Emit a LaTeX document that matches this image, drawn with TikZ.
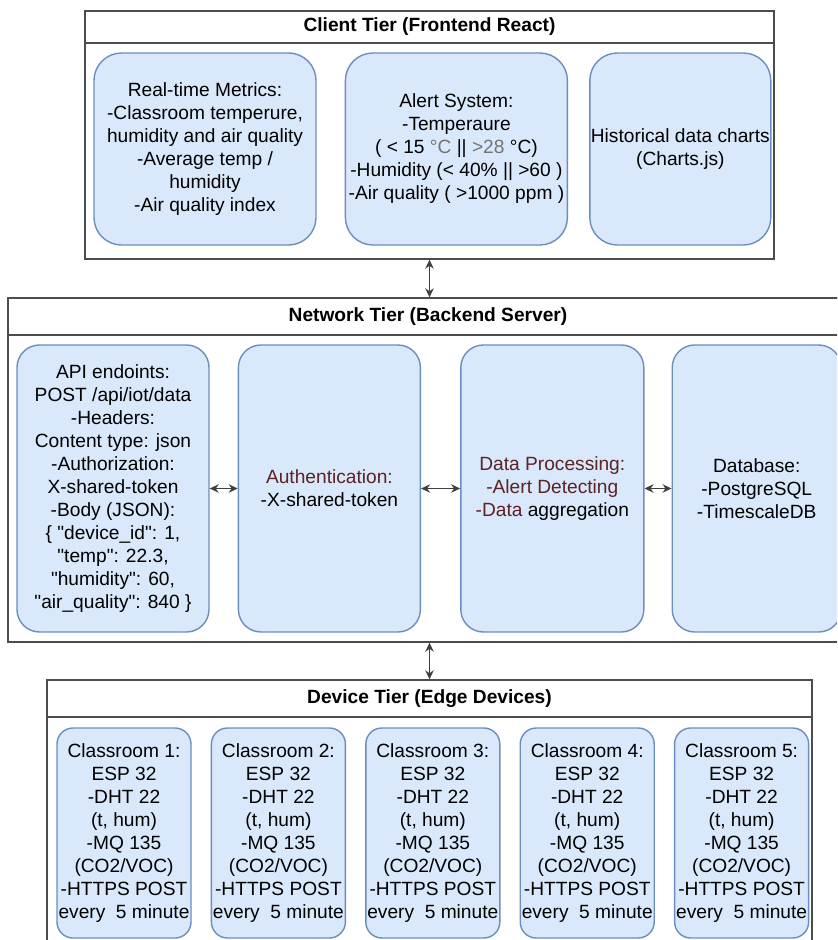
\documentclass[tikz,border=0pt]{standalone}
\usepackage{fontspec}
\setmainfont{Liberation Sans}[Ligatures=TeXOff]
\usepackage{xcolor}
\usepackage{tikz}
\usetikzlibrary{arrows.meta, positioning}

\definecolor{boxfill}{HTML}{DAE8FC}
\definecolor{boxline}{HTML}{6C8EBF}
\definecolor{procred}{HTML}{5B2323}

\begin{document}
\begin{tikzpicture}[
  font=\fontsize{10.9}{13.1}\selectfont,
  tier/.style={draw=black!70, line width=0.8pt, fill=white, rectangle, inner sep=0pt},
  tierhead/.style={draw=black!70, line width=0.8pt, rectangle, anchor=north, inner sep=0pt, font=\fontsize{10.9}{13.1}\selectfont\bfseries},
  block/.style={draw=boxline, fill=boxfill, line width=0.8pt, rectangle, align=center, inner sep=0.5pt},
  clientblock/.style={block, rounded corners=0.55cm, minimum width=4.44cm, minimum height=3.84cm},
  netblock/.style={block, rounded corners=0.45cm, minimum height=5.74cm},
  devblock/.style={block, rounded corners=0.32cm, minimum width=2.68cm, minimum height=4.2cm},
  dblarrow/.style={{Stealth[length=1.8mm, width=1.7mm]}-{Stealth[length=1.8mm, width=1.7mm]}, draw=black!75, line width=0.7pt}
]

\useasboundingbox (0,0) rectangle (16.74,-18.8);
\clip (0,0) rectangle (16.74,-18.8);

% client tier
\node[tier, minimum width=13.78cm, minimum height=4.96cm] (client) at (8.59,-2.70) {};
\node[tierhead, minimum width=13.78cm, minimum height=0.64cm] (clienthead) at (client.north) {Client Tier (Frontend React)};

\node[clientblock] (metrics) at (4.10,-2.98) {Real-time Metrics:\\-Classroom temperure,\\humidity and air quality\\-Average temp /\\humidity\\-Air quality index};
\node[clientblock, right=0.56cm of metrics] (alerts) {Alert System:\\-Temperaure\\( < 15 {\color{black!55}°C} || {\color{black!55}>28} °C)\\-Humidity (< 40\% || >60 )\\-Air quality ( >1000 ppm )};
\node[clientblock, minimum width=3.62cm, right=0.42cm of alerts] (charts) {Historical data charts\\(Charts.js)};

% network tier
\node[tier, minimum width=16.80cm, minimum height=6.88cm] (network) at (8.56,-9.40) {};
\node[tierhead, minimum width=16.80cm, minimum height=0.74cm] (networkhead) at (network.north) {Network Tier (Backend Server)};

\node[netblock, minimum width=3.84cm] (api) at (2.26,-9.77) {API endoints:\\POST /api/iot/data\\-Headers:\\Content type: json\\-Authorization:\\X-shared-token\\-Body (JSON):\\\{ "device\_id": 1,\\"temp": 22.3,\\"humidity": 60,\\"air\_quality": 840 \}};
\node[netblock, minimum width=3.64cm, right=0.56cm of api] (auth) {{\color{procred}Authentication:}\\-X-shared-token};
\node[netblock, minimum width=3.66cm, right=0.78cm of auth] (processing) {{\color{procred}Data Processing:}\\{\color{procred}-Alert Detecting}\\{\color{procred}-Data} aggregation};
\node[netblock, minimum width=3.38cm, right=0.54cm of processing] (database) {Database:\\-PostgreSQL\\-TimescaleDB};

\draw[dblarrow] (api) -- (auth);
\draw[dblarrow] (auth) -- (processing);
\draw[dblarrow] (processing) -- (database);

% device tier
\node[tier, minimum width=15.30cm, minimum height=5.40cm] (device) at (8.59,-16.30) {};
\node[tierhead, minimum width=15.30cm, minimum height=0.74cm] (devicehead) at (device.north) {Device Tier (Edge Devices)};

\node[devblock] (room1) at (2.48,-16.66) {Classroom 1:\\ESP 32\\-DHT 22\\(t, hum)\\-MQ 135\\(CO2/VOC)\\-HTTPS POST\\every\ \ 5 minute};
\node[devblock, right=0.38cm of room1] (room2) {Classroom 2:\\ESP 32\\-DHT 22\\(t, hum)\\-MQ 135\\(CO2/VOC)\\-HTTPS POST\\every\ \ 5 minute};
\node[devblock, right=0.38cm of room2] (room3) {Classroom 3:\\ESP 32\\-DHT 22\\(t, hum)\\-MQ 135\\(CO2/VOC)\\-HTTPS POST\\every\ \ 5 minute};
\node[devblock, right=0.38cm of room3] (room4) {Classroom 4:\\ESP 32\\-DHT 22\\(t, hum)\\-MQ 135\\(CO2/VOC)\\-HTTPS POST\\every\ \ 5 minute};
\node[devblock, right=0.38cm of room4] (room5) {Classroom 5:\\ESP 32\\-DHT 22\\(t, hum)\\-MQ 135\\(CO2/VOC)\\-HTTPS POST\\every\ \ 5 minute};

\draw[dblarrow] (client.south) -- (client.south |- network.north);
\draw[dblarrow] (device.north |- network.south) -- (device.north);

\end{tikzpicture}
\end{document}
